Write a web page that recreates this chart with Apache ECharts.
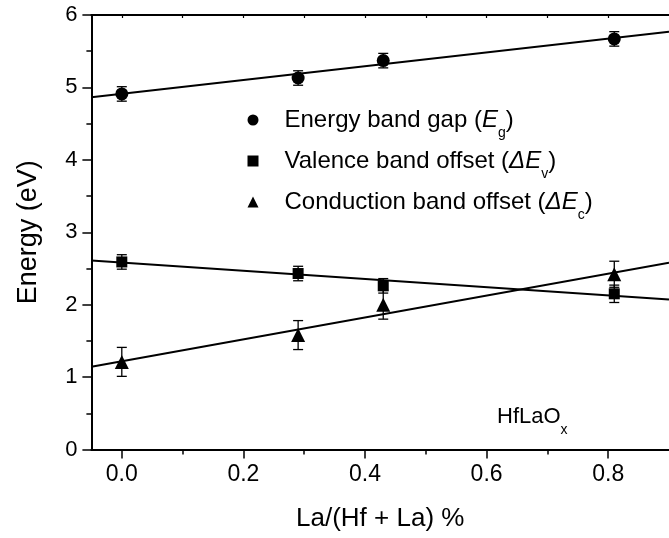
<!DOCTYPE html>
<html>
<head>
<meta charset="utf-8">
<script src="https://cdn.jsdelivr.net/npm/echarts@6/dist/echarts.min.js"></script>
<style>html,body{margin:0;padding:0;background:#fff;}#c{width:669px;height:538px;}</style>
</head>
<body>
<div id="c"></div>
<script>
// ---- data ----
const xValues = [0, 0.29, 0.43, 0.81];
const egValues = [4.91, 5.13, 5.37, 5.67];
const egErr = [0.1, 0.1, 0.1, 0.1];
const evValues = [2.59, 2.43, 2.26, 2.15];
const evErr = [0.1, 0.1, 0.1, 0.12];
const ecValues = [1.21, 1.58, 2.0, 2.42];
const ecErr = [0.2, 0.2, 0.2, 0.18];
const fitX = [-0.05, 0.9];
const egFit = [4.865, 5.77];
const evFit = [2.61, 2.07];
const ecFit = [1.144, 2.58];
const xMajorTicks = [0, 0.2, 0.4, 0.6, 0.8];
const xMinorTicks = [0.1, 0.3, 0.5, 0.7];
const xTopTicks = [0, 0.1, 0.2, 0.3, 0.4, 0.5, 0.6, 0.7, 0.8];
const xTitle = 'La/(Hf + La) %';
const yTitle = 'Energy (eV)';
const legendTexts = {
  Eg: '{sp| }{n|Energy band gap (}{i|E}{s|g}{n|)}',
  Ev: '{sp| }{n|Valence band offset (}{i|ΔE}{s|v}{n|)}',
  Ec: '{sp| }{n|Conduction band offset (}{i|ΔE}{s|c}{n|)}'
};
const sampleLabel = '{n|HfLaO}{s|x}';

const FONT = '"Liberation Sans", Arial, sans-serif';
const chart = echarts.init(document.getElementById('c'));

function pts(vals) { return xValues.map((x, i) => [x, vals[i]]); }
function errPts(vals, errs) { return xValues.map((x, i) => [x, vals[i], errs[i]]); }
function fitPts(vals) { return fitX.map((x, i) => [x, vals[i]]); }

function errorSeries(vals, errs) {
  return {
    type: 'custom',
    xAxisIndex: 0, yAxisIndex: 0,
    silent: true, z: 3,
    data: errPts(vals, errs),
    renderItem: function (params, api) {
      const x = api.value(0), y = api.value(1), e = api.value(2);
      const top = api.coord([x, y + e]);
      const bot = api.coord([x, y - e]);
      const hw = 5;
      const style = { stroke: '#000', lineWidth: 1.3, fill: null };
      return {
        type: 'group',
        children: [
          { type: 'line', shape: { x1: top[0], y1: top[1], x2: bot[0], y2: bot[1] }, style: style },
          { type: 'line', shape: { x1: top[0] - hw, y1: top[1], x2: top[0] + hw, y2: top[1] }, style: style },
          { type: 'line', shape: { x1: bot[0] - hw, y1: bot[1], x2: bot[0] + hw, y2: bot[1] }, style: style }
        ]
      };
    }
  };
}
function fitSeries(vals) {
  return {
    type: 'line', data: fitPts(vals), showSymbol: false, silent: true, z: 2,
    lineStyle: { color: '#000', width: 2 }, clip: true
  };
}
function scatterSeries(name, vals, symbol, size) {
  return {
    name: name, type: 'scatter', data: pts(vals), symbol: symbol, symbolSize: size, z: 5,
    itemStyle: { color: '#000', opacity: 1 }
  };
}

const LH = 40;
const option = {
  animation: false,
  backgroundColor: '#fff',
  grid: { left: 91.4, top: 15, width: 585.7, height: 434.5 },
  legend: {
    data: [
      { name: 'Eg', icon: 'circle' },
      { name: 'Ev', icon: 'rect' },
      { name: 'Ec', icon: 'triangle' }
    ],
    orient: 'vertical', left: 242.5, top: 103, itemWidth: 11, itemHeight: 11, itemGap: 9,
    selectedMode: false,
    formatter: function (name) { return legendTexts[name]; },
    textStyle: {
      color: '#000', fontFamily: FONT, fontSize: 24,
      rich: {
        sp: { width: 21, fontSize: 24, lineHeight: LH },
        n: { fontSize: 24, fontFamily: FONT, color: '#000', lineHeight: LH },
        i: { fontSize: 24, fontFamily: FONT, fontStyle: 'italic', color: '#000', lineHeight: LH },
        s: { fontSize: 14, fontFamily: FONT, color: '#000', lineHeight: LH, verticalAlign: 'bottom' }
      }
    }
  },
  graphic: [{
    type: 'text', left: 497, top: 406,
    style: {
      text: sampleLabel, fill: '#000',
      rich: {
        n: { fontSize: 22, fontFamily: FONT, fill: '#000', lineHeight: LH },
        s: { fontSize: 14, fontFamily: FONT, fill: '#000', lineHeight: LH, verticalAlign: 'bottom' }
      }
    }
  }],
  xAxis: [
    {
      type: 'value', min: -0.05, max: 0.9, position: 'bottom',
      name: xTitle, nameLocation: 'middle', nameGap: 56,
      nameTextStyle: { fontSize: 26, fontFamily: FONT, color: '#000' },
      axisLine: { onZero: false, lineStyle: { color: '#000', width: 2 } },
      axisTick: { show: true, inside: false, length: 9, lineStyle: { color: '#000', width: 1.5 }, customValues: xMajorTicks },
      axisLabel: { fontSize: 23, fontFamily: FONT, color: '#000', margin: 14, customValues: xMajorTicks,
        formatter: function (v) { return v.toFixed(1); } },
      splitLine: { show: false }
    },
    {
      type: 'value', min: -0.05, max: 0.9, position: 'bottom',
      axisLine: { show: false, onZero: false },
      axisTick: { show: true, inside: false, length: 5, lineStyle: { color: '#000', width: 1.5 }, customValues: xMinorTicks },
      axisLabel: { show: false, customValues: xMinorTicks },
      splitLine: { show: false }
    },
    {
      type: 'value', min: -0.05, max: 0.9, position: 'top',
      axisLine: { show: true, onZero: false, lineStyle: { color: '#000', width: 2 } },
      axisTick: { show: true, inside: true, length: 3, lineStyle: { color: '#000', width: 1.2 }, customValues: xTopTicks },
      axisLabel: { show: false, customValues: xTopTicks },
      splitLine: { show: false }
    }
  ],
  yAxis: [{
    type: 'value', min: 0, max: 6, interval: 1,
    name: yTitle, nameLocation: 'middle', nameGap: 49,
    nameTextStyle: { fontSize: 27, fontFamily: FONT, color: '#000' },
    axisLine: { show: true, onZero: false, lineStyle: { color: '#000', width: 2 } },
    axisTick: { show: true, inside: false, length: 9, lineStyle: { color: '#000', width: 1.5 } },
    minorTick: { show: true, splitNumber: 2, length: 5, lineStyle: { color: '#000', width: 1.5 } },
    axisLabel: { fontSize: 22, fontFamily: FONT, color: '#000', margin: 14 },
    splitLine: { show: false }
  }],
  series: [
    fitSeries(egFit), fitSeries(evFit), fitSeries(ecFit),
    errorSeries(egValues, egErr), errorSeries(evValues, evErr), errorSeries(ecValues, ecErr),
    scatterSeries('Eg', egValues, 'circle', 13),
    scatterSeries('Ev', evValues, 'rect', 11),
    scatterSeries('Ec', ecValues, 'triangle', 14)
  ]
};
chart.setOption(option);
</script>
</body>
</html>
